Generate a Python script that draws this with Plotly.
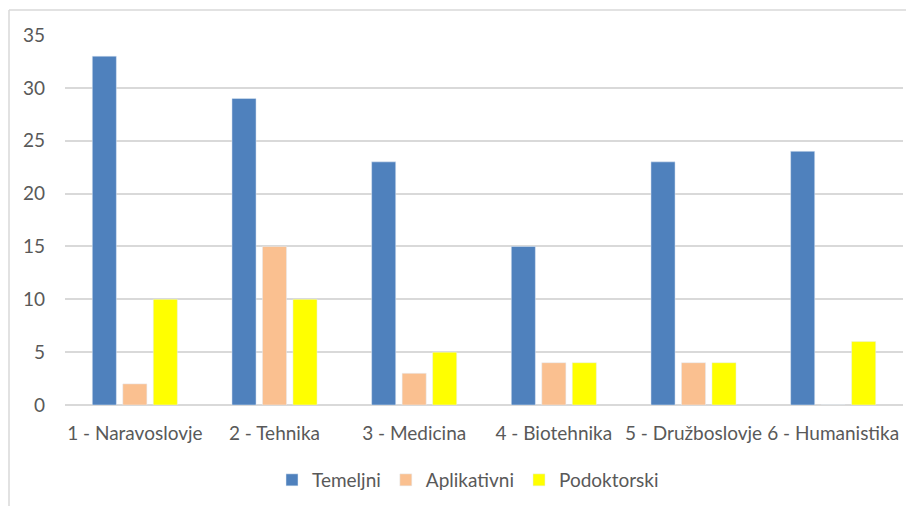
import plotly.graph_objects as go

categories = ["1 - Naravoslovje", "2 - Tehnika", "3 - Medicina", "4 - Biotehnika",
              "5 - Družboslovje", "6 - Humanistika"]
temeljni = [33, 29, 23, 15, 23, 24]
aplikativni = [2, 15, 3, 4, 4, 0]
podoktorski = [10, 10, 5, 4, 4, 6]
y_ticks = [0, 5, 10, 15, 20, 25, 30, 35]

FONT = "Lato"
GRAY = "#595959"
FS = 19

fig = go.Figure()
fig.add_trace(go.Bar(name="Temeljni", x=categories, y=temeljni, marker_color="#4F81BD"))
fig.add_trace(go.Bar(name="Aplikativni", x=categories, y=aplikativni, marker_color="#FAC090"))
fig.add_trace(go.Bar(name="Podoktorski", x=categories, y=podoktorski, marker_color="#FFFF00"))

OFF = 8  # page body margin
W, H = 914 - OFF, 506 - OFF
# plot area in screen pixels: x 65..903, y 35..405
L = 65 - OFF
R = W - (903 - OFF)
T = 35 - OFF
B = H - (405 - OFF)
pw, ph = W - L - R, H - T - B

def px(xs):
    return (xs - OFF - L) / pw

def py(ys):
    return (H - B - (ys - OFF)) / ph

fig.update_layout(
    width=W, height=H,
    margin=dict(l=L, r=R, t=T, b=B, pad=0, autoexpand=False),
    paper_bgcolor="white", plot_bgcolor="white",
    barmode="group", bargap=0.345, bargroupgap=0.21,
    font=dict(family=FONT, size=FS, color=GRAY),
    legend=dict(orientation="h", x=px(468), xanchor="center", y=py(480), yanchor="middle",
                font=dict(family=FONT, size=FS, color=GRAY), itemwidth=30,
                traceorder="normal"),
    xaxis=dict(showgrid=False, showline=False, ticks="", ticklabelstandoff=15,
               tickfont=dict(size=FS, color=GRAY), automargin=False),
    yaxis=dict(range=[0, 35], tickvals=y_ticks, showgrid=True, gridcolor="#D9D9D9",
               gridwidth=1.5, zeroline=True, zerolinecolor="#D9D9D9", zerolinewidth=1.5,
               ticks="", ticklabelstandoff=19, tickfont=dict(size=FS, color=GRAY),
               automargin=False),
    shapes=[
        dict(type="line", xref="paper", yref="paper", x0=px(9), x1=px(914), y0=py(10), y1=py(10),
             line=dict(color="#D9D9D9", width=1.5)),
        dict(type="line", xref="paper", yref="paper", x0=px(9), x1=px(9), y0=py(10), y1=py(506),
             line=dict(color="#D9D9D9", width=1.5)),
    ],
)

fig.write_html("out.html")
